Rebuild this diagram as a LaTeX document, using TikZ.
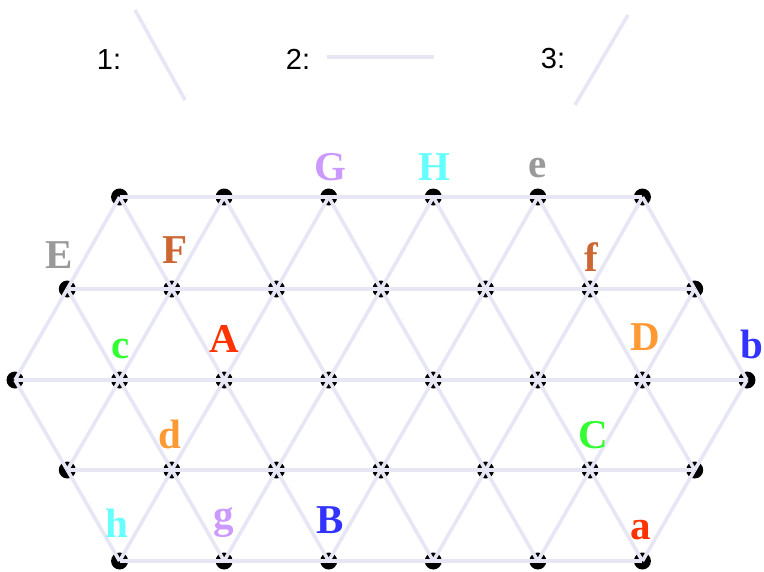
\documentclass[tikz,border=0pt]{standalone}
\usepackage{fontspec}
\setmainfont{Liberation Serif}
\setsansfont{Liberation Sans}
\definecolor{edgec}{RGB}{230,230,245}
\definecolor{cgray}{RGB}{153,153,153}
\definecolor{cbrown}{RGB}{204,102,51}
\definecolor{cpurple}{RGB}{204,153,255}
\definecolor{ccyan}{RGB}{102,255,255}
\definecolor{cgreen}{RGB}{51,255,51}
\definecolor{cred}{RGB}{255,51,0}
\definecolor{corange}{RGB}{255,153,51}
\definecolor{cblue}{RGB}{51,51,255}
\tikzset{
  dot/.style={circle,fill=black,inner sep=0pt,minimum size=17pt},
  edge/.style={draw=edgec,line width=3.6pt},
  lab/.style={anchor=base,inner sep=0pt,font=\fontsize{41}{41}\selectfont\bfseries},
  leg/.style={anchor=base,inner sep=0pt,font=\fontsize{29}{29}\selectfont\sffamily}
}
\begin{document}
\begin{tikzpicture}[x=1pt,y=-1pt]
\useasboundingbox (0,0) rectangle (764,571);
% dots
\foreach \r/\y/\a/\b in {1/197/2/12,2/289/1/13,3/380/0/14,4/470/1/13,5/561/2/12}{
  \pgfmathtruncatemacro\c{\a+2}
  \foreach \j in {\a,\c,...,\b}{
    \node[dot] (p-\r-\j) at ({15+52.285*\j},\y) {};
  }
}
% horizontal edges
\foreach \r/\a/\b in {1/2/10,2/1/11,3/0/12,4/1/11,5/2/10}{
  \pgfmathtruncatemacro\c{\a+2}
  \foreach \j in {\a,\c,...,\b}{
    \pgfmathtruncatemacro\k{\j+2}
    \draw[edge] (p-\r-\j.center) -- (p-\r-\k.center);
  }
}
% diagonal edges (upper half)
\foreach \r/\s/\a/\b in {1/2/2/12,2/3/1/13}{
  \pgfmathtruncatemacro\c{\a+2}
  \foreach \j in {\a,\c,...,\b}{
    \pgfmathtruncatemacro\m{\j-1}
    \pgfmathtruncatemacro\n{\j+1}
    \draw[edge] (p-\r-\j.center) -- (p-\s-\m.center);
    \draw[edge] (p-\r-\j.center) -- (p-\s-\n.center);
  }
}
% diagonal edges (lower half)
\foreach \r/\s/\a/\b in {4/3/1/13,5/4/2/12}{
  \pgfmathtruncatemacro\c{\a+2}
  \foreach \j in {\a,\c,...,\b}{
    \pgfmathtruncatemacro\m{\j-1}
    \pgfmathtruncatemacro\n{\j+1}
    \draw[edge] (p-\r-\j.center) -- (p-\s-\m.center);
    \draw[edge] (p-\r-\j.center) -- (p-\s-\n.center);
  }
}
% labels
\node[lab,text=cgray]   (lE) at (59,268) {E};
\node[lab,text=cbrown]  (lF) at (175,263) {F};
\node[lab,text=cpurple] (lG) at (330,180) {G};
\node[lab,text=ccyan]   (lH) at (434,180) {H};
\node[lab,text=cgray]   (le) at (538,177) {e};
\node[lab,text=cbrown]  (lf) at (591,271) {f};
\node[lab,text=cgreen]  (lc) at (121,358) {c};
\node[lab,text=cred]    (lA) at (224,352) {A};
\node[lab,text=corange] (lD) at (645,350) {D};
\node[lab,text=cblue]   (lb) at (752,358) {b};
\node[lab,text=corange] (ld) at (170,448) {d};
\node[lab,text=cgreen]  (lC) at (593,448) {C};
\node[lab,text=ccyan]   (lh) at (117,537) {h};
\node[lab,text=cpurple] (lg) at (224,528) {g};
\node[lab,text=cblue]   (lB) at (330,533) {B};
\node[lab,text=cred]    (la) at (641,539) {a};
% legend
\node[leg] (t1) at (109,69) {1:};
\node[leg] (t2) at (298,69) {2:};
\node[leg] (t3) at (553,68) {3:};
\coordinate (a1) at (135,10);  \coordinate (b1) at (185,100);
\coordinate (a2) at (327,57);  \coordinate (b2) at (434,57);
\coordinate (a3) at (628,15);  \coordinate (b3) at (575,105);
\draw[edge] (a1) -- (b1);
\draw[edge] (a2) -- (b2);
\draw[edge] (a3) -- (b3);
\end{tikzpicture}
\end{document}
